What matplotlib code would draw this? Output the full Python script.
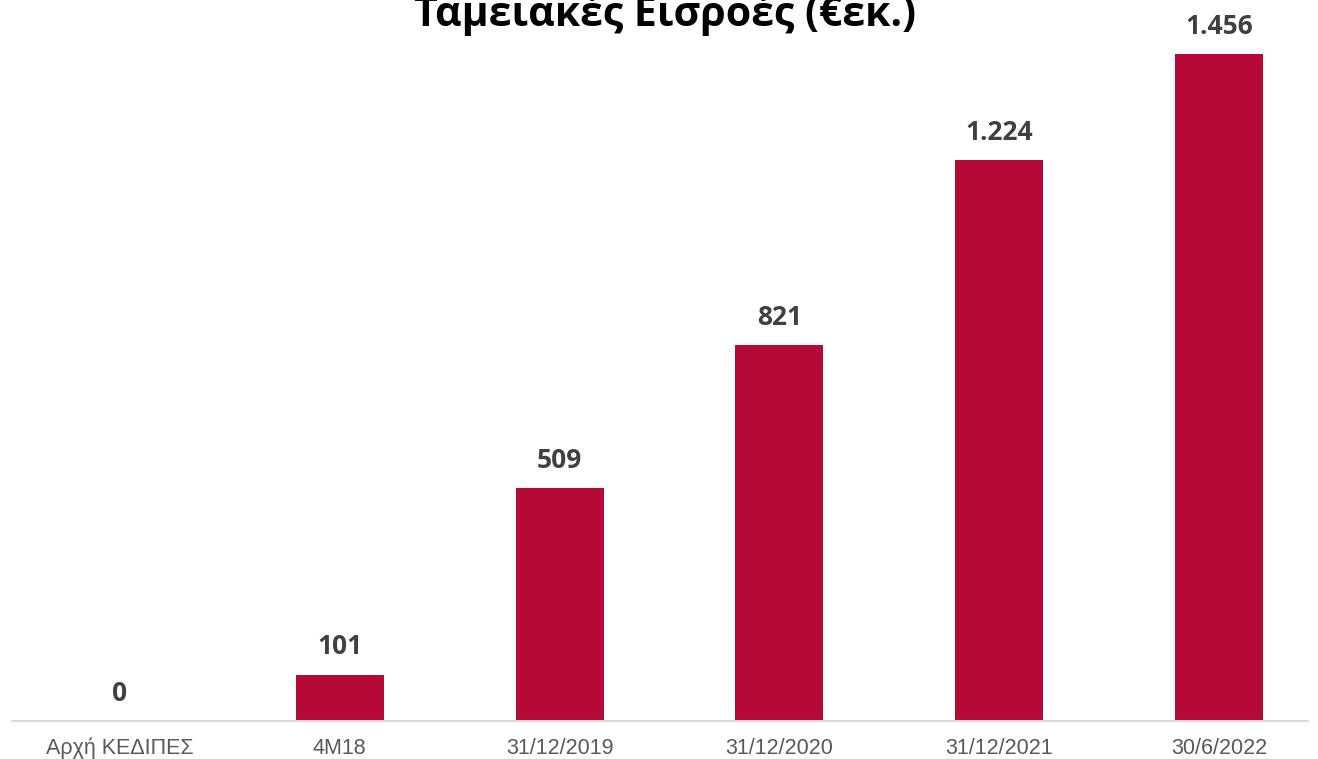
import matplotlib.pyplot as plt

# data
categories = ["Αρχή ΚΕΔΙΠΕΣ", "4M18", "31/12/2019", "31/12/2020", "31/12/2021", "30/6/2022"]
values = [0, 101, 509, 821, 1224, 1456]
labels = ["0", "101", "509", "821", "1.224", "1.456"]

title = "Ταμειακές Εισροές (€εκ.)"
bar_color = "#B50938"

W, H = 1318, 759
fig = plt.figure(figsize=(W / 100, H / 100), dpi=100)

# axes placed in pixel terms: baseline at y=721, spans x 12..1308
ax_bottom = 721
ax_top = 0
ax = fig.add_axes([12 / W, 1 - ax_bottom / H, 1296 / W, (ax_bottom - ax_top) / H])

px_per_unit = 667 / 1456
ax.set_ylim(0, (ax_bottom - ax_top) / px_per_unit)
ax.set_xlim(-0.491, 5.405)

x = list(range(len(categories)))
ax.bar(x, values, width=0.40, color=bar_color, zorder=2)

for xi, v, lab in zip(x, values, labels):
    ax.annotate(lab, (xi, v), xytext=(0, 20), textcoords="offset points",
                ha="center", va="center", fontsize=19, fontweight="bold",
                color="#404040", family="Open Sans")

ax.set_xticks(x)
ax.set_xticklabels(categories, fontsize=15.5, color="#595959", family="Liberation Sans")
ax.tick_params(axis="x", length=0, pad=12)
ax.set_yticks([])

for side in ["top", "right", "left"]:
    ax.spines[side].set_visible(False)
ax.spines["bottom"].set_color("#D9D9D9")
ax.spines["bottom"].set_linewidth(1.5)

fig.text(665 / W, 1 - 26 / H, title, ha="center", va="baseline",
         fontsize=29.5, fontweight="bold", color="black", family="Open Sans")

fig.savefig("out.png", dpi=100)
